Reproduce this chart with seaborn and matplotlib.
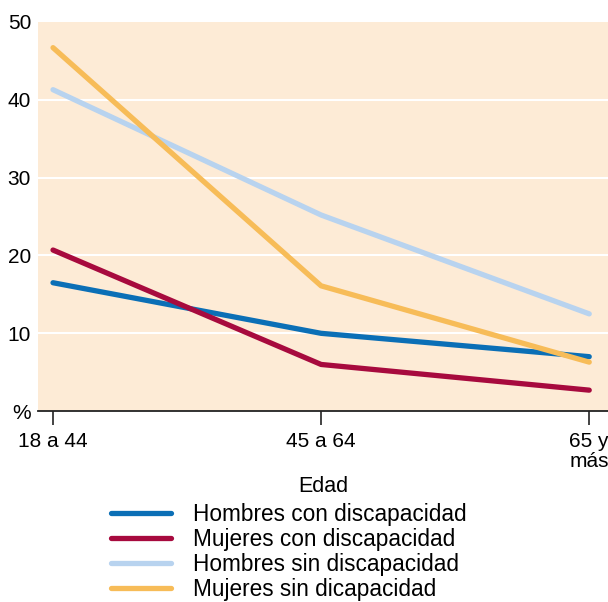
import pandas as pd
import matplotlib.pyplot as plt
import seaborn as sns

# data
edades = ['18 a 44', '45 a 64', '65 y\nmás']
series = ['Hombres con discapacidad', 'Mujeres con discapacidad',
          'Hombres sin discapacidad', 'Mujeres sin dicapacidad']
hombres_con = [16.5, 10.0, 7.0]
mujeres_con = [20.7, 6.0, 2.7]
hombres_sin = [41.3, 25.2, 12.5]
mujeres_sin = [46.7, 16.1, 6.3]
colores = ['#0b6fb6', '#a70a3e', '#b8d3ef', '#f7bc58']

valores = [hombres_con, mujeres_con, hombres_sin, mujeres_sin]
rows = []
for s, vals in zip(series, valores):
    for i, v in enumerate(vals):
        rows.append({'pos': i, 'valor': v, 'serie': s})
df = pd.DataFrame(rows)

sns.set_style('white')
plt.rcParams['font.family'] = ['Liberation Sans', 'DejaVu Sans']
plt.rcParams['text.color'] = 'black'
plt.rcParams['xtick.color'] = 'black'
plt.rcParams['ytick.color'] = 'black'
plt.rcParams['axes.labelcolor'] = 'black'

fig = plt.figure(figsize=(6.08, 6.02), dpi=100)
ax = fig.add_axes([0.0625, 0.317, 0.9375, 0.6465])
ax.set_facecolor('#fdebd6')

for y in [10, 20, 30, 40]:
    ax.axhline(y, color='white', lw=1.5, zorder=1)

sns.lineplot(data=df, x='pos', y='valor', hue='serie', hue_order=series,
             palette=colores, linewidth=3.8, ax=ax, legend=False, zorder=3,
             solid_capstyle='round')

ax.set_xlim(-0.056, 2.07)
ax.set_ylim(0, 50)
ax.set_xticks(range(3))
ax.set_xticklabels(edades, fontsize=15, linespacing=1.05)
ax.set_yticks([0, 10, 20, 30, 40, 50])
ax.set_yticklabels(['%', '10', '20', '30', '40', '50'], fontsize=15)
ax.tick_params(axis='x', length=10, width=1.2, color='#222222', pad=5, direction='out')
ax.tick_params(axis='y', length=0, pad=5)
ax.tick_params(axis='x', bottom=True)
for sp in ['top', 'right', 'left']:
    ax.spines[sp].set_visible(False)
ax.spines['bottom'].set_linewidth(1.3)
ax.spines['bottom'].set_color('#222222')
ax.set_xlabel('Edad', fontsize=15.5, labelpad=4)
ax.set_ylabel('')

handles = [plt.Line2D([], [], color=c, lw=3.8, solid_capstyle='round') for c in colores]
fig.legend(handles, series, loc='upper left', bbox_to_anchor=(0.183, 0.164),
           frameon=False, fontsize=16.3, handlelength=2.65, handletextpad=0.95,
           labelspacing=0.08, borderaxespad=0, borderpad=0)

fig.savefig('out.png', dpi=100)
